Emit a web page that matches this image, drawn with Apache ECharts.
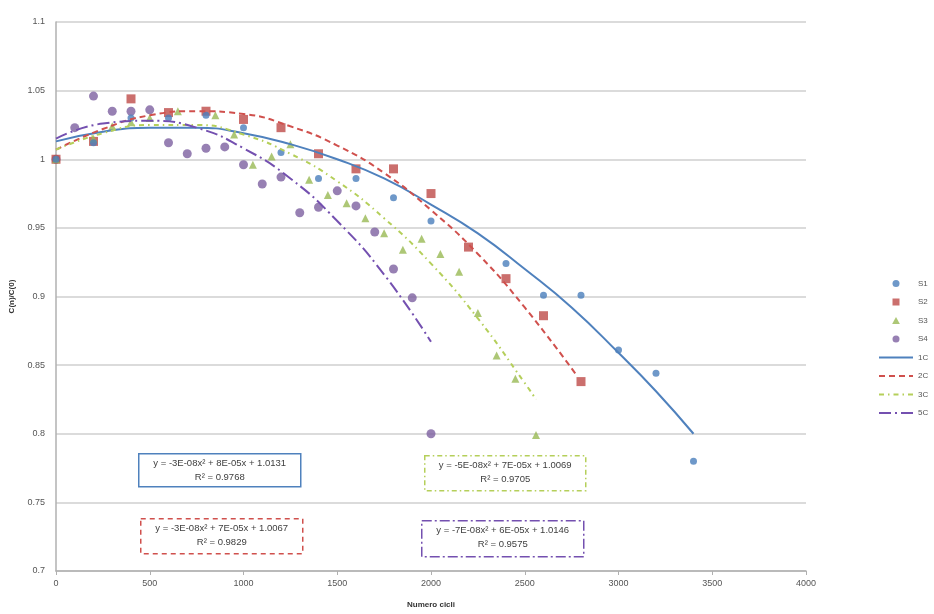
<!DOCTYPE html>
<html>
<head>
<meta charset="utf-8">
<script src="https://cdn.jsdelivr.net/npm/echarts@6/dist/echarts.min.js"></script>
<style>
html,body{margin:0;padding:0;background:#fff;}
#chart{width:934px;height:614px;}
</style>
</head>
<body>
<div id="chart"></div>
<script>
// ---- data ----
const s1 = [[0,1.000],[200,1.012],[400,1.030],[600,1.030],[800,1.032],[1000,1.023],[1200,1.005],[1400,0.986],[1600,0.986],[1800,0.972],[2000,0.955],[2400,0.924],[2600,0.901],[2800,0.901],[3000,0.861],[3200,0.844],[3400,0.780]];
const s2 = [[0,1.000],[200,1.013],[400,1.044],[600,1.034],[800,1.035],[1000,1.029],[1200,1.023],[1400,1.004],[1600,0.993],[1800,0.993],[2000,0.975],[2200,0.936],[2400,0.913],[2600,0.886],[2800,0.838]];
const s3 = [[0,1.000],[200,1.015],[300,1.024],[400,1.027],[500,1.030],[650,1.035],[850,1.032],[950,1.018],[1050,0.996],[1150,1.002],[1250,1.011],[1350,0.985],[1450,0.974],[1550,0.968],[1650,0.957],[1750,0.946],[1850,0.934],[1950,0.942],[2050,0.931],[2150,0.918],[2250,0.888],[2350,0.857],[2450,0.840],[2560,0.799]];
const s4 = [[0,1.000],[100,1.023],[200,1.046],[300,1.035],[400,1.035],[500,1.036],[600,1.012],[700,1.004],[800,1.008],[900,1.009],[1000,0.996],[1100,0.982],[1200,0.987],[1300,0.961],[1400,0.965],[1500,0.977],[1600,0.966],[1700,0.947],[1800,0.920],[1900,0.899],[2000,0.800]];

// trend lines
const t1C = [[0,1.013],[250,1.020],[500,1.023],[750,1.023],[1000,1.019],[1250,1.011],[1500,1.000],[1750,0.986],[2000,0.967],[2250,0.946],[2500,0.920],[2750,0.892],[3000,0.859],[3200,0.831],[3400,0.800]];
const t2C = [[0,1.007],[250,1.022],[500,1.032],[750,1.035],[1000,1.033],[1250,1.024],[1500,1.010],[1750,0.990],[2000,0.963],[2250,0.931],[2500,0.892],[2780,0.842]];
const t3C = [[0,1.007],[250,1.019],[500,1.025],[750,1.025],[1000,1.018],[1250,1.004],[1500,0.984],[1750,0.957],[2000,0.924],[2250,0.884],[2500,0.837],[2560,0.825]];
const t5C = [[0,1.015],[250,1.026],[500,1.028],[750,1.023],[1000,1.008],[1250,0.986],[1500,0.955],[1750,0.916],[2000,0.867]];

const seriesNames = ['S1','S2','S3','S4','1C','2C','3C','5C'];

const eqTexts = [
  ['y = -3E-08x² + 8E-05x + 1.0131','R² = 0.9768'],
  ['y = -3E-08x² + 7E-05x + 1.0067','R² = 0.9829'],
  ['y = -5E-08x² + 7E-05x + 1.0069','R² = 0.9705'],
  ['y = -7E-08x² + 6E-05x + 1.0146','R² = 0.9575']
];

// ---- styles ----
const cBlue = '#4a7ebb', cRed = '#be4b48', cGreen = '#98b954', cPurple = '#7d60a0';
const cGreenLine = '#b5cf5a', cPurpleLine = '#7450b0', cRedLine = '#d0504d', cBlueLine = '#4f81bd';
const font = 'Liberation Sans, Arial, sans-serif';

function box(x, y, w, h, stroke, dash, lines) {
  return {
    type: 'group', left: x, top: y,
    children: [
      { type: 'rect', shape: { x: 0, y: 0, width: w, height: h },
        style: { fill: '#fff', stroke: stroke, lineWidth: 1.5, lineDash: dash } },
      { type: 'text', x: w / 2, y: 5,
        style: { text: lines[0], font: '9.5px ' + font, fill: '#404040', textAlign: 'center' } },
      { type: 'text', x: w / 2, y: 19,
        style: { text: lines[1], font: '9.5px ' + font, fill: '#404040', textAlign: 'center' } }
    ]
  };
}

const hideSym = { opacity: 0 };
const chart = echarts.init(document.getElementById('chart'), null, { renderer: 'canvas' });
chart.setOption({
  animation: false,
  backgroundColor: '#fff',
  textStyle: { fontFamily: font },
  grid: { left: 56, right: 128, top: 22, bottom: 43 },
  xAxis: {
    type: 'value', min: 0, max: 4000, interval: 500,
    name: 'Numero cicli', nameLocation: 'middle', nameGap: 30,
    nameTextStyle: { fontSize: 8, fontWeight: 'bold', color: '#333' },
    axisLine: { show: true, lineStyle: { color: '#b0b0b0', width: 1.5 } },
    axisTick: { show: true, length: 4, lineStyle: { color: '#b0b0b0' } },
    axisLabel: { fontSize: 9, color: '#555', margin: 8, formatter: v => String(v) },
    splitLine: { show: false }
  },
  yAxis: {
    type: 'value', min: 0.7, max: 1.1, interval: 0.05,
    name: 'C(n)/C(0)', nameLocation: 'middle', nameGap: 40, nameRotate: 90,
    nameTextStyle: { fontSize: 8, fontWeight: 'bold', color: '#333' },
    axisLine: { show: true, lineStyle: { color: '#b0b0b0', width: 1.5 } },
    axisTick: { show: false },
    axisLabel: { fontSize: 9, color: '#555', margin: 11,
      formatter: v => String(Math.round(v * 100) / 100) },
    splitLine: { show: true, lineStyle: { color: '#cfcfcf', width: 1.5 } }
  },
  legend: {
    orient: 'vertical', left: 873, top: 274,
    itemWidth: 34, itemHeight: 7, itemGap: 9.5,
    symbolKeepAspect: true,
    textStyle: { fontSize: 8, color: '#555', lineHeight: 9 },
    data: [
      { name: 'S1', icon: 'circle' },
      { name: 'S2', icon: 'path://M0,0H10V10H0Z' },
      { name: 'S3', icon: 'path://M5,0L10,9H0Z' },
      { name: 'S4', icon: 'circle' },
      { name: '1C', itemStyle: hideSym },
      { name: '2C', itemStyle: hideSym },
      { name: '3C', itemStyle: hideSym },
      { name: '5C', itemStyle: hideSym }
    ]
  },
  series: [
    { name: 'S1', type: 'scatter', data: s1, symbol: 'circle', symbolSize: 7, itemStyle: { color: cBlue }, z: 5 },
    { name: 'S2', type: 'scatter', data: s2, symbol: 'rect', symbolSize: 9, itemStyle: { color: cRed }, z: 4 },
    { name: 'S3', type: 'scatter', data: s3, symbol: 'triangle', symbolSize: 8, itemStyle: { color: cGreen }, z: 4 },
    { name: 'S4', type: 'scatter', data: s4, symbol: 'circle', symbolSize: 9, itemStyle: { color: cPurple }, z: 3 },
    { name: '1C', type: 'line', data: t1C, smooth: true, showSymbol: false, symbol: 'none',
      lineStyle: { color: cBlueLine, width: 2, type: 'solid' }, itemStyle: { color: cBlueLine }, z: 6 },
    { name: '2C', type: 'line', data: t2C, smooth: true, showSymbol: false, symbol: 'none',
      lineStyle: { color: cRedLine, width: 2, type: [6, 4] }, itemStyle: { color: cRedLine }, z: 6 },
    { name: '3C', type: 'line', data: t3C, smooth: true, showSymbol: false, symbol: 'none',
      lineStyle: { color: cGreenLine, width: 2, type: [5, 4, 1.5, 4] }, itemStyle: { color: cGreenLine }, z: 6 },
    { name: '5C', type: 'line', data: t5C, smooth: true, showSymbol: false, symbol: 'none',
      lineStyle: { color: cPurpleLine, width: 2, type: [12, 4, 2, 4] }, itemStyle: { color: cPurpleLine }, z: 6 }
  ],
  graphic: [
    box(138, 453, 162, 33, cBlueLine, null, eqTexts[0]),
    box(140, 518, 162, 35, cRedLine, [5, 4], eqTexts[1]),
    box(424, 455, 161, 35, cGreenLine, [5, 3, 1.5, 3], eqTexts[2]),
    box(421, 520, 162, 36, cPurpleLine, [10, 3, 2, 3], eqTexts[3])
  ]
});
</script>
</body>
</html>
